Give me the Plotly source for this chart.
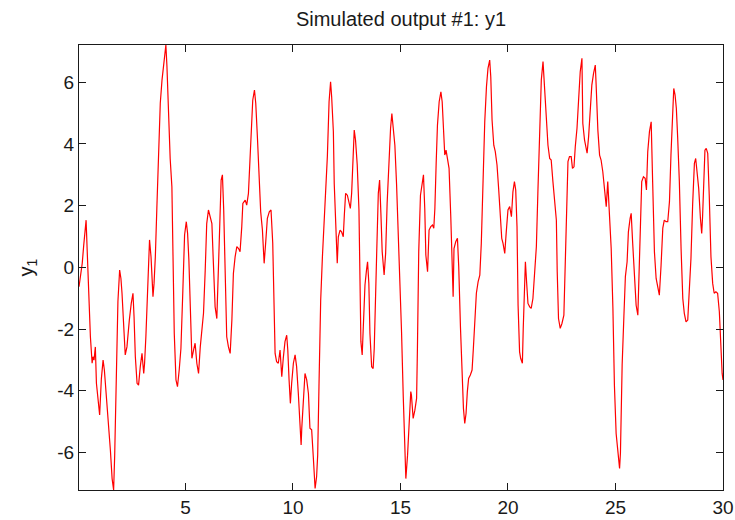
import plotly.graph_objects as go

# Time axis values (s)
time_s = [
    0.05, 0.20, 0.27, 0.33, 0.38, 0.43, 0.50, 0.58, 0.66, 0.70, 0.75, 0.81, 0.86, 0.94, 1.01, 1.09, 1.17, 1.23, 1.28, 1.35,
    1.43, 1.51, 1.59, 1.66, 1.71, 1.79, 1.86, 1.94, 2.00, 2.05, 2.13, 2.20, 2.28, 2.33, 2.39, 2.48, 2.56, 2.61, 2.67, 2.75,
    2.82, 2.90, 2.98, 3.06, 3.10, 3.16, 3.23, 3.29, 3.33, 3.40, 3.44, 3.49, 3.54, 3.60, 3.67, 3.75, 3.83, 3.91, 3.98, 4.03,
    4.09, 4.14, 4.22, 4.29, 4.37, 4.42, 4.48, 4.56, 4.63, 4.71, 4.79, 4.88, 4.96, 5.04, 5.10, 5.16, 5.24,
    5.30, 5.38, 5.45, 5.53, 5.61, 5.69, 5.76, 5.84, 5.92, 5.99, 6.07, 6.15, 6.23, 6.30, 6.38, 6.46, 6.51, 6.57, 6.66, 6.72,
    6.78, 6.85, 6.92, 7.00, 7.08, 7.16, 7.23, 7.31, 7.39, 7.47, 7.54, 7.62, 7.67, 7.78, 7.85, 7.93, 8.01, 8.08, 8.13, 8.21,
    8.27, 8.35, 8.43, 8.50, 8.58, 8.66, 8.73, 8.81, 8.90, 8.98, 9.06, 9.12, 9.17, 9.24, 9.32, 9.40, 9.48, 9.55, 9.63, 9.71,
    9.76, 9.82, 9.88, 9.94, 10.02, 10.10, 10.17, 10.25, 10.33, 10.38, 10.41,
    10.48, 10.56, 10.64, 10.72, 10.79, 10.87, 10.95, 11.03, 11.10, 11.15, 11.21, 11.29, 11.37, 11.44, 11.52, 11.60, 11.68,
    11.75, 11.80, 11.88, 11.92, 12.00, 12.06, 12.11, 12.19, 12.26, 12.34, 12.39, 12.45, 12.53, 12.60, 12.67, 12.73, 12.79,
    12.85, 12.91, 12.99, 13.07, 13.11, 13.16, 13.22, 13.27, 13.35, 13.42, 13.47, 13.53, 13.58, 13.66, 13.73, 13.78, 13.84,
    13.89, 13.97, 14.03, 14.09, 14.15, 14.24, 14.31, 14.38, 14.46, 14.54, 14.60, 14.66, 14.74, 14.82, 14.89, 14.97, 15.05,
    15.13, 15.20, 15.25, 15.33, 15.40, 15.48,
    15.51, 15.59, 15.67, 15.75, 15.79, 15.85, 15.93, 16.01, 16.07, 16.13, 16.18, 16.26, 16.33, 16.41, 16.49, 16.55, 16.60,
    16.66, 16.72, 16.80, 16.88, 16.94, 17.00, 17.06, 17.12, 17.18, 17.26, 17.34, 17.40, 17.45, 17.49, 17.57, 17.65, 17.71,
    17.79, 17.87, 17.93, 17.99, 18.05, 18.11, 18.17, 18.25, 18.33, 18.39, 18.45, 18.53, 18.61, 18.69, 18.76, 18.84, 18.92,
    19.00, 19.07, 19.15, 19.20, 19.26, 19.34, 19.41, 19.49, 19.57, 19.65, 19.71, 19.77, 19.85, 19.92, 20.00, 20.08, 20.16,
    20.23, 20.30, 20.36, 20.42, 20.47, 20.54, 20.59,
    20.67, 20.71, 20.76, 20.81, 20.87, 20.93, 21.01, 21.08, 21.16, 21.24, 21.32, 21.39, 21.47, 21.55, 21.63, 21.70, 21.78,
    21.86, 21.94, 22.01, 22.09, 22.17, 22.25, 22.29, 22.35, 22.43, 22.51, 22.60, 22.66, 22.73, 22.79, 22.86, 22.94, 23.00,
    23.07, 23.13, 23.21, 23.28, 23.36, 23.44, 23.48, 23.56, 23.64, 23.68, 23.75, 23.82, 23.90, 23.98, 24.06, 24.10, 24.18,
    24.26, 24.33, 24.41, 24.49, 24.57, 24.64, 24.72, 24.80, 24.88, 24.95, 25.03, 25.11, 25.19, 25.23, 25.31, 25.39, 25.46,
    25.54, 25.60, 25.68, 25.73,
    25.80, 25.88, 25.96, 26.04, 26.08, 26.14, 26.22, 26.30, 26.38, 26.44, 26.50, 26.58, 26.66, 26.73, 26.81, 26.89, 26.96,
    27.04, 27.12, 27.20, 27.27, 27.35, 27.43, 27.51, 27.58, 27.66, 27.71, 27.77, 27.83, 27.89, 27.97, 28.05, 28.13, 28.20,
    28.28, 28.36, 28.43, 28.51, 28.59, 28.67, 28.73, 28.79, 28.87, 28.95, 29.01, 29.05, 29.10, 29.16, 29.22, 29.29, 29.36,
    29.44, 29.52, 29.59, 29.67, 29.75, 29.83, 29.90, 29.96, 30.00,
]

# Simulated output y1
y1_values = [
    -0.63, 0.13, 0.72, 1.32, 1.53, 0.56, -0.95, -2.25, -3.11, -2.90, -3.01, -2.58, -3.76, -4.41, -4.79, -3.61, -3.01, -3.33, -3.76, -4.36,
    -5.23, -5.93, -6.85, -7.22, -6.09, -3.87, -1.11, -0.09, -0.36, -0.84, -1.93, -2.84, -2.58, -2.03, -1.71, -1.17, -0.84, -1.60, -2.90, -3.76,
    -3.82, -3.22, -2.79, -3.44, -3.11, -2.25, -0.95, 0.13, 0.89, 0.34, -0.41, -0.95, -0.52, 0.34, 1.91, 4.02, 5.32, 6.07, 6.51, 6.83,
    7.21, 6.51, 4.88, 3.53, 2.61, 0.67, -2.14, -3.65, -3.87, -3.33, -2.63, -0.74, 1.05, 1.48, 1.10, 0.24, -1.38,
    -2.95, -2.68, -2.46, -3.11, -3.44, -2.58, -1.93, -1.49, -0.09, 1.42, 1.86, 1.59, 1.42, 0.13, -1.28, -1.66, -0.74, 0.78, 2.83, 3.00,
    1.86, -0.63, -2.25, -2.58, -2.79, -1.71, -0.20, 0.34, 0.67, 0.61, 0.51, 1.32, 2.07, 2.18, 2.02, 2.40, 3.70, 4.78, 5.42, 5.75,
    5.32, 4.18, 2.72, 1.80, 1.21, 0.13, 0.78, 1.59, 1.80, 1.86, 0.78, -1.49, -2.79, -3.06, -3.11, -2.68, -3.55, -2.95, -2.41, -2.20,
    -2.68, -3.65, -4.41, -3.76, -3.11, -2.84, -3.22, -4.09, -5.27, -5.76, -5.22,
    -4.20, -3.44, -3.65, -4.09, -5.22, -5.27, -6.20, -7.17, -6.79, -6.09, -3.87, -1.06, 0.34, 1.27, 2.18, 3.59, 5.37,
    6.02, 5.53, 4.40, 2.72, 1.05, 0.13, 0.99, 1.21, 1.15, 0.99, 1.70, 2.40, 2.34, 2.07, 1.91, 2.40, 3.70,
    4.45, 4.13, 3.32, 1.86, -0.41, -2.41, -2.84, -1.82, -0.57, -0.09, 0.18, -0.52, -2.14, -3.22, -3.28, -2.63, -1.38,
    0.34, 2.40, 2.83, 1.75, 0.51, -0.25, 0.45, 2.07, 3.59, 4.51, 4.99, 4.61, 3.96, 2.67, 1.37, -0.03, -2.09,
    -4.20, -6.25, -6.85, -6.09, -4.90, -4.03,
    -4.14, -4.90, -4.63, -4.25, -2.58, 0.51, 2.34, 2.78, 3.00, 1.91, 0.40, -0.14, 1.21, 1.32, 1.37, 1.27, 1.91,
    3.37, 4.61, 5.37, 5.69, 5.37, 4.24, 3.64, 3.80, 3.59, 3.21, 1.64, -0.30, -0.95, 0.61, 0.83, 0.94, 0.02,
    -1.93, -3.60, -4.58, -5.06, -4.74, -4.03, -3.60, -3.49, -3.33, -2.63, -1.71, -0.84, -0.47, -0.25, 0.78, 2.83, 4.72,
    5.86, 6.45, 6.72, 6.18, 4.78, 3.96, 3.75, 3.32, 2.51, 1.53, 0.94, 0.78, 0.45, 1.15, 1.86, 1.97, 1.64,
    2.45, 2.78, 2.51, 1.32, -1.23, -2.74, -2.95,
    -3.11, -1.98, -0.36, 0.18, -0.52, -1.17, -1.28, -1.33, -1.01, -0.30, 0.67, 2.40, 4.51, 6.07, 6.67, 5.80, 4.72,
    3.96, 3.53, 3.48, 2.78, 2.24, 1.53, -0.14, -1.66, -1.98, -1.82, -1.55, -0.20, 2.13, 3.43, 3.59, 3.59, 3.21,
    3.26, 3.91, 4.51, 5.37, 6.34, 6.78, 4.67, 4.13, 3.75, 3.70, 4.24, 5.21, 5.91, 6.29, 6.56, 5.91, 4.45,
    3.64, 3.48, 3.10, 2.40, 1.97, 2.78, 1.80, 0.61, -1.33, -3.82, -5.39, -6.09, -6.52, -6.03, -3.17, -1.60, -0.30,
    0.18, 1.15, 1.59, 1.75,
    0.78, -0.36, -1.23, -1.55, -0.63, 1.48, 2.78, 2.94, 2.89, 2.51, 3.75, 4.40, 4.72, 2.72, 0.51, -0.36, -0.68,
    -0.90, 0.07, 1.27, 1.53, 1.48, 1.48, 2.13, 3.64, 5.16, 5.80, 5.59, 5.16, 4.24, 2.78, 0.61, -1.01, -1.49,
    -1.77, -1.71, -0.84, 0.29, 2.07, 3.37, 3.53, 3.16, 2.56, 1.59, 1.10, 1.64, 3.00, 3.80, 3.86, 3.70, 2.34,
    0.34, -0.52, -0.84, -0.79, -0.84, -1.44, -2.63, -3.44, -3.65,
]

x_ticks = [5, 10, 15, 20, 25, 30]
y_ticks = [-6, -4, -2, 0, 2, 4, 6]
x_range = [0.05, 30.0]
y_range = [-7.22, 7.21]

FONT = "Liberation Sans, Arial, sans-serif"
INK = "#1a1a1a"

fig = go.Figure()
fig.add_trace(go.Scatter(
    x=time_s, y=y1_values, mode="lines",
    line=dict(color="#ff0000", width=1.2),
    showlegend=False, hoverinfo="skip",
))

axis_common = dict(
    showline=True, linecolor=INK, linewidth=1, mirror="ticks",
    ticks="inside", ticklen=7, tickwidth=1, tickcolor=INK,
    showgrid=False, zeroline=False, automargin=False,
    tickfont=dict(family=FONT, size=19, color=INK),
)

fig.update_layout(
    width=735, height=520,
    margin=dict(l=79, r=12, t=45, b=30),
    paper_bgcolor="white", plot_bgcolor="white",
    title=dict(
        text="Simulated output #1: y1",
        font=dict(family=FONT, size=20, color=INK),
        x=(79 + (735 - 79 - 12) / 2) / 735, xanchor="center",
        y=1 - 19 / 520, yanchor="middle",
    ),
    xaxis=dict(range=x_range, tickvals=x_ticks, ticktext=[str(v) for v in x_ticks], **axis_common),
    yaxis=dict(
        range=y_range, tickvals=y_ticks, ticktext=[str(v) for v in y_ticks],
        title=dict(text="y<sub>1</sub>", font=dict(family=FONT, size=20, color=INK), standoff=18),
        **axis_common,
    ),
)

fig.write_html("out.html")
